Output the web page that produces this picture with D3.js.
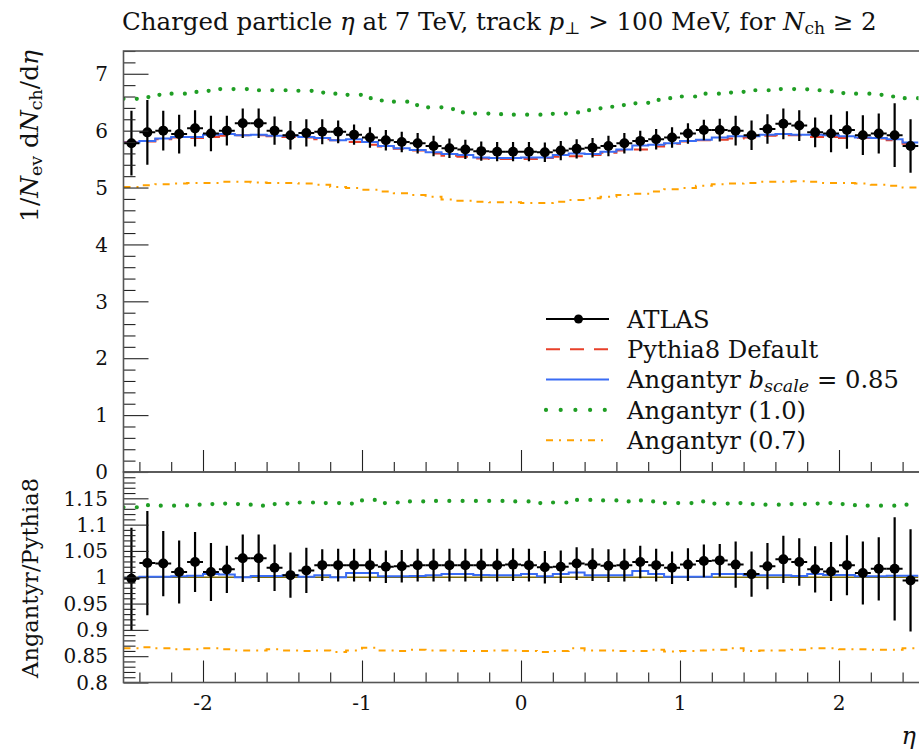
<!DOCTYPE html>
<html><head><meta charset="utf-8">
<script src="https://cdn.jsdelivr.net/npm/d3@7"></script>
<style>
body{margin:0;background:#fff;}
text{font-family:"DejaVu Serif","Liberation Serif",serif;fill:#111;}
</style></head>
<body><svg id="c" width="919" height="749"></svg>
<script>
// ---------- DATA ----------
const binEdges = [-2.5,-2.4,-2.3,-2.2,-2.1,-2.0,-1.9,-1.8,-1.7,-1.6,-1.5,-1.4,-1.3,-1.2,-1.1,-1.0,-0.9,-0.8,-0.7,-0.6,-0.5,-0.4,-0.3,-0.2,-0.1,0.0,0.1,0.2,0.3,0.4,0.5,0.6,0.7,0.8,0.9,1.0,1.1,1.2,1.3,1.4,1.5,1.6,1.7,1.8,1.9,2.0,2.1,2.2,2.3,2.4,2.5];
const atlas = [5.78,5.97,6.00,5.94,6.04,5.95,6.00,6.13,6.13,6.00,5.92,5.96,5.98,5.98,5.93,5.88,5.83,5.80,5.78,5.73,5.69,5.67,5.64,5.63,5.63,5.63,5.62,5.65,5.68,5.70,5.73,5.78,5.82,5.85,5.88,5.95,6.01,6.01,6.00,5.92,6.03,6.12,6.09,5.97,5.95,6.01,5.92,5.95,5.92,5.73];
const atlasErr = [0.57,0.57,0.35,0.34,0.32,0.31,0.26,0.26,0.26,0.25,0.25,0.24,0.22,0.20,0.18,0.18,0.18,0.18,0.18,0.18,0.17,0.17,0.17,0.17,0.17,0.17,0.17,0.17,0.17,0.17,0.18,0.18,0.18,0.18,0.18,0.18,0.18,0.20,0.26,0.26,0.26,0.27,0.27,0.26,0.33,0.33,0.35,0.35,0.56,0.47];
const pythia8 = [5.80,5.81,5.85,5.88,5.87,5.89,5.91,5.92,5.92,5.90,5.89,5.88,5.85,5.83,5.80,5.75,5.72,5.68,5.65,5.60,5.56,5.54,5.51,5.50,5.50,5.50,5.52,5.54,5.55,5.57,5.61,5.65,5.67,5.72,5.77,5.81,5.83,5.84,5.86,5.88,5.91,5.92,5.92,5.89,5.89,5.87,5.87,5.86,5.83,5.77];
const ang085 = [5.79,5.82,5.86,5.89,5.89,5.93,5.94,5.92,5.93,5.91,5.91,5.89,5.87,5.83,5.85,5.80,5.73,5.69,5.66,5.62,5.59,5.57,5.53,5.52,5.52,5.53,5.53,5.57,5.60,5.59,5.63,5.67,5.74,5.75,5.78,5.82,5.84,5.88,5.90,5.90,5.93,5.94,5.93,5.93,5.92,5.90,5.88,5.87,5.85,5.79];
const ang10 = [6.56,6.59,6.63,6.65,6.68,6.70,6.73,6.73,6.71,6.71,6.71,6.70,6.67,6.65,6.63,6.57,6.53,6.51,6.45,6.41,6.38,6.32,6.30,6.29,6.28,6.28,6.28,6.30,6.32,6.36,6.42,6.45,6.48,6.54,6.57,6.60,6.65,6.65,6.67,6.71,6.71,6.73,6.73,6.71,6.69,6.66,6.65,6.63,6.60,6.57];
const ang07 = [5.01,5.04,5.06,5.07,5.08,5.08,5.10,5.10,5.09,5.08,5.08,5.07,5.05,5.01,4.99,4.96,4.93,4.90,4.87,4.84,4.79,4.77,4.75,4.74,4.74,4.73,4.73,4.75,4.78,4.81,4.84,4.87,4.89,4.93,4.97,4.99,5.03,5.06,5.07,5.08,5.10,5.10,5.11,5.10,5.08,5.08,5.07,5.05,5.03,5.00];
// ratio panel (x / Pythia8)
const ratioAtlas = [0.997,1.027,1.026,1.010,1.029,1.010,1.015,1.036,1.036,1.018,1.004,1.013,1.023,1.023,1.023,1.023,1.020,1.021,1.023,1.023,1.023,1.023,1.023,1.023,1.024,1.023,1.019,1.020,1.026,1.024,1.022,1.023,1.029,1.023,1.018,1.024,1.031,1.032,1.024,1.006,1.021,1.034,1.029,1.015,1.011,1.023,1.008,1.016,1.016,0.994];
const ratioAtlasErr = [0.097,0.099,0.062,0.060,0.057,0.055,0.045,0.045,0.045,0.044,0.043,0.043,0.030,0.031,0.031,0.031,0.031,0.031,0.031,0.031,0.031,0.031,0.031,0.031,0.031,0.031,0.031,0.031,0.031,0.031,0.031,0.031,0.031,0.031,0.031,0.031,0.031,0.031,0.044,0.043,0.044,0.045,0.045,0.044,0.056,0.057,0.060,0.060,0.098,0.097];
const ratioPythia8 = [1,1,1,1,1,1,1,1,1,1,1,1,1,1,1,1,1,1,1,1,1,1,1,1,1,1,1,1,1,1,1,1,1,1,1,1,1,1,1,1,1,1,1,1,1,1,1,1,1,1];
const ratioAng085 = [0.999,1.001,1.001,1.002,1.003,1.006,1.005,1.000,1.0025,1.0025,1.004,1.001,1.004,1.000,1.008,1.008,1.002,1.002,1.0025,1.004,1.006,1.006,1.0045,1.004,1.004,1.006,1.002,1.006,1.009,1.004,1.004,1.004,1.012,1.006,1.001,1.001,1.001,1.006,1.006,1.004,1.004,1.004,1.0025,1.006,1.0045,1.0045,1.002,1.002,1.003,1.003];
const ratioAng10 = [1.133,1.137,1.136,1.136,1.138,1.139,1.140,1.139,1.136,1.139,1.140,1.142,1.141,1.141,1.140,1.147,1.141,1.142,1.144,1.145,1.145,1.145,1.145,1.145,1.144,1.144,1.141,1.142,1.147,1.147,1.146,1.144,1.146,1.144,1.141,1.141,1.144,1.140,1.141,1.139,1.138,1.138,1.139,1.140,1.141,1.139,1.136,1.136,1.136,1.138];
const ratioAng07 = [0.865,0.867,0.865,0.863,0.863,0.865,0.863,0.861,0.861,0.863,0.861,0.860,0.861,0.858,0.861,0.866,0.861,0.860,0.862,0.861,0.861,0.860,0.860,0.861,0.861,0.860,0.858,0.860,0.865,0.861,0.861,0.860,0.860,0.862,0.859,0.860,0.861,0.862,0.865,0.860,0.861,0.861,0.862,0.865,0.865,0.863,0.863,0.862,0.862,0.865];
const xTickLabels = ["-2","-1","0","1","2"];
const xTickValues = [-2,-1,0,1,2];
const mainYTicks = [0,1,2,3,4,5,6,7];
const ratioYTicks = [0.8,0.85,0.9,0.95,1,1.05,1.1,1.15];
const ratioYLabels = ["0.8","0.85","0.9","0.95","1","1.05","1.1","1.15"];
const legendNames = ["ATLAS","Pythia8 Default","Angantyr b_scale = 0.85","Angantyr (1.0)","Angantyr (0.7)"];

// ---------- LAYOUT ----------
const svg = d3.select("#c");
const L = 123.5, R = 918.5, T = 51, MID = 472, B = 682.5;
const x = d3.scaleLinear().domain([-2.5, 2.5]).range([L, R]);
const yM = d3.scaleLinear().domain([0, 7.4]).range([MID, T]);
const yR = d3.scaleLinear().domain([0.8, 1.2]).range([B, MID]);

const COL = {red:"#e8402a", blue:"#3a6cf4", green:"#1f9e24", orange:"#ffa200", olive:"#7d6b08"};

function fit(sel, target, base){
  sel.style("font-size", base+"px");
  const w = sel.node().getComputedTextLength();
  sel.style("font-size", (base*target/w).toFixed(2)+"px");
}

svg.append("defs").call(d => {
  d.append("clipPath").attr("id","cm").append("rect").attr("x",L).attr("y",T).attr("width",R-L).attr("height",MID-T);
  d.append("clipPath").attr("id","cr").append("rect").attr("x",L).attr("y",MID).attr("width",R-L).attr("height",B-MID);
});

function stepPts(vals){ const p = vals.map((v,i)=>[binEdges[i], v]); p.push([binEdges[binEdges.length-1], vals[vals.length-1]]); return p; }
function drawStep(g, y, vals, color, dash, width, cap){
  const line = d3.line().x(d=>x(d[0])).y(d=>y(d[1])).curve(d3.curveStepAfter);
  g.append("path").attr("d", line(stepPts(vals))).attr("fill","none").attr("stroke",color)
    .attr("stroke-width",width).attr("stroke-dasharray",dash||null).attr("stroke-linecap",cap||"butt");
}
function drawPoints(g, y, vals, errs){
  vals.forEach((v,i)=>{
    const xc = x((binEdges[i]+binEdges[i+1])/2);
    g.append("line").attr("x1",x(binEdges[i])).attr("x2",x(binEdges[i+1])).attr("y1",y(v)).attr("y2",y(v)).attr("stroke","#000").attr("stroke-width",2);
    g.append("line").attr("x1",xc).attr("x2",xc).attr("y1",y(v-errs[i])).attr("y2",y(v+errs[i])).attr("stroke","#000").attr("stroke-width",2.2);
    g.append("circle").attr("cx",xc).attr("cy",y(v)).attr("r",5).attr("fill","#000");
  });
}

// main panel curves
const gm = svg.append("g").attr("clip-path","url(#cm)");
drawStep(gm, yM, ang07, COL.orange, "7,6,2,6", 2);
drawStep(gm, yM, ang10, COL.green, "0,13.3", 4.2, "round");
drawStep(gm, yM, pythia8, COL.red, "14,10", 2);
drawStep(gm, yM, ang085, COL.blue, null, 2);
drawPoints(gm, yM, atlas, atlasErr);

// ratio panel curves
const gr = svg.append("g").attr("clip-path","url(#cr)");
drawStep(gr, yR, ratioAng07, COL.orange, "7,6,2,6", 2);
drawStep(gr, yR, ratioAng10, COL.green, "0,13.3", 4.2, "round");
drawStep(gr, yR, ratioPythia8, COL.olive, null, 1.6);
drawStep(gr, yR, ratioAng085, COL.blue, null, 2);
drawPoints(gr, yR, ratioAtlas, ratioAtlasErr);

// ---------- AXES ----------
const ax = svg.append("g");
const mainMinor = d3.range(0, 7.41, 0.2).map(v=>+v.toFixed(2)).filter(v=>!mainYTicks.includes(v));
ax.append("g").attr("transform",`translate(${L},0)`).call(d3.axisRight(yM).tickValues(mainYTicks).tickSize(25).tickFormat(""));
ax.append("g").attr("transform",`translate(${L},0)`).call(d3.axisRight(yM).tickValues(mainMinor).tickSize(12).tickFormat(""));
const ratioMinor = d3.range(80, 121, 1).map(v=>v/100).filter(v=>!ratioYTicks.some(t=>Math.abs(t-v)<1e-6));
ax.append("g").attr("transform",`translate(${L},0)`).call(d3.axisRight(yR).tickValues(ratioYTicks).tickSize(25).tickFormat(""));
ax.append("g").attr("transform",`translate(${L},0)`).call(d3.axisRight(yR).tickValues(ratioMinor).tickSize(12).tickFormat(""));
const xMinor = d3.range(-24, 25, 2).map(v=>v/10).filter(v=>!xTickValues.includes(v));
[MID, B].forEach(yy=>{
  ax.append("g").attr("transform",`translate(0,${yy})`).call(d3.axisTop(x).tickValues(xTickValues).tickSize(22).tickFormat(""));
  ax.append("g").attr("transform",`translate(0,${yy})`).call(d3.axisTop(x).tickValues(xMinor).tickSize(10).tickFormat(""));
});
ax.selectAll(".domain").remove();
ax.selectAll(".tick line").attr("stroke","#222").attr("stroke-width",1.1);

// frames
svg.append("rect").attr("x",L).attr("y",T).attr("width",R-L+2).attr("height",MID-T).attr("fill","none").attr("stroke","#555").attr("stroke-width",1.6);
svg.append("rect").attr("x",L).attr("y",MID).attr("width",R-L+2).attr("height",B-MID).attr("fill","none").attr("stroke","#555").attr("stroke-width",1.6);

// tick labels
const tl = svg.append("g").style("font-size","20px");
mainYTicks.forEach(v=> tl.append("text").attr("x",108).attr("y",yM(v)).attr("dy","0.36em").attr("text-anchor","end").text(v));
ratioYTicks.forEach((v,i)=> tl.append("text").attr("x",108).attr("y",yR(v)).attr("dy","0.36em").attr("text-anchor","end").text(ratioYLabels[i]));
xTickValues.forEach((v,i)=> tl.append("text").attr("x",x(v)).attr("y",710).attr("text-anchor","middle").text(xTickLabels[i]));

// title
const title = svg.append("text").attr("x",122).attr("y",30);
title.append("tspan").text("Charged particle ");
title.append("tspan").style("font-style","italic").text("η");
title.append("tspan").text(" at 7 TeV, track ");
title.append("tspan").style("font-style","italic").text("p");
title.append("tspan").attr("dy","0.25em").style("font-size","0.7em").text("⊥");
title.append("tspan").attr("dy","-0.17em").text(" > 100 MeV, for ");
title.append("tspan").style("font-style","italic").text("N");
title.append("tspan").attr("dy","0.25em").style("font-size","0.7em").text("ch");
title.append("tspan").attr("dy","-0.17em").text(" ≥ 2");
fit(title, 755, 22);

// y label main
const yl = svg.append("text").attr("transform","translate(38,50) rotate(-90)").attr("text-anchor","end");
yl.append("tspan").text("1/");
yl.append("tspan").style("font-style","italic").text("N");
yl.append("tspan").attr("dy","0.25em").style("font-size","0.7em").text("ev");
yl.append("tspan").attr("dy","-0.17em").text(" d");
yl.append("tspan").style("font-style","italic").text("N");
yl.append("tspan").attr("dy","0.25em").style("font-size","0.7em").text("ch");
yl.append("tspan").attr("dy","-0.17em").text("/d");
yl.append("tspan").style("font-style","italic").text("η");
fit(yl, 172, 22);

// y label ratio
const rl = svg.append("text").attr("transform","translate(38,478) rotate(-90)").attr("text-anchor","end").text("Angantyr/Pythia8");
fit(rl, 200, 22);
// x label
svg.append("text").attr("x",916).attr("y",744).attr("text-anchor","end").style("font-size","24px").style("font-style","italic").text("η");

// ---------- LEGEND ----------
const lg = svg.append("g");
const ly0 = 319, ldy = 30.3, lx0 = 546, lx1 = 609;
const styles = [
  {c:"#000", d:null, w:2},
  {c:COL.red, d:"14,10", w:2},
  {c:COL.blue, d:null, w:2},
  {c:COL.green, d:"0,14.7", w:4.2, cap:"round"},
  {c:COL.orange, d:"7,6,2,6", w:2}
];
const ltexts = [];
legendNames.forEach((n,i)=>{
  const yy = ly0 + i*ldy;
  const s = styles[i];
  lg.append("line").attr("x1",lx0).attr("x2",lx1).attr("y1",yy).attr("y2",yy).attr("stroke",s.c).attr("stroke-width",s.w)
    .attr("stroke-dasharray",s.d).attr("stroke-linecap",s.cap||"butt");
  if(i===0) lg.append("circle").attr("cx",(lx0+lx1)/2+1).attr("cy",yy).attr("r",4.5).attr("fill","#000");
  const t = lg.append("text").attr("x",627).attr("y",yy).attr("dy","0.36em");
  if(n.includes("b_scale")){
    t.append("tspan").text("Angantyr ");
    t.append("tspan").style("font-style","italic").text("b");
    t.append("tspan").attr("dy","0.22em").style("font-size","0.72em").style("font-style","italic").text("scale");
    t.append("tspan").attr("dy","-0.16em").text(" = 0.85");
    ltexts.push({t, big:true});
  } else ltexts.push({t, big:false});
  if(!n.includes("b_scale")) t.text(n);
});
const bigT = ltexts.find(d=>d.big).t;
fit(bigT, 272, 22);
const lfs = bigT.style("font-size");
ltexts.forEach(d=>d.t.style("font-size", lfs));
</script></body></html>
